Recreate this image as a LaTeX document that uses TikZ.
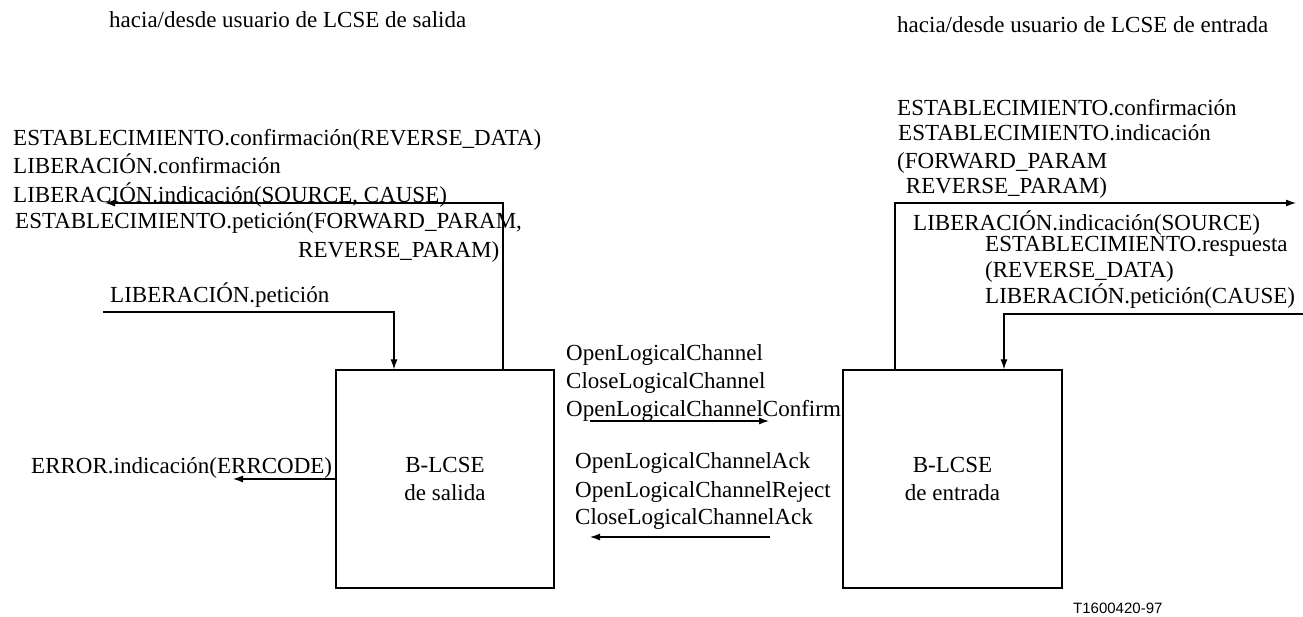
\documentclass[tikz,border=0pt]{standalone}
\usepackage{fontspec}
\setmainfont{Liberation Serif}
\newfontfamily\tagfont{Liberation Sans}
\usepackage{tikz}
\usetikzlibrary{arrows.meta}
\tikzstyle{block} = [rectangle, draw, line width=1.3pt, align=center, minimum width=218, minimum height=218, font=\fontsize{23}{28}\selectfont]
\tikzstyle{lbl} = [anchor=base west, inner sep=0pt, font=\fontsize{23}{26}\selectfont]
\tikzstyle{connector} = [line width=1.2pt, -{Latex[length=10pt,width=7pt]}]

\begin{document}
\begin{tikzpicture}[x=1pt, y=-1pt]
        \useasboundingbox (0,0) rectangle (1303,616);
        % headings
        \node (headL) [lbl] at (109,27) {hacia/desde usuario de LCSE de salida};
        \node (headR) [lbl] at (897,32) {hacia/desde usuario de LCSE de entrada};
        % the two blocks
        \node (salida) [block] at (445,479) {B-LCSE\\de salida};
        \node (entrada) [block, minimum width=219] at (952.5,479) {B-LCSE\\de entrada};
        % primitives, outgoing side
        \node (estConfL) [lbl] at (13,145) {ESTABLECIMIENTO.confirmación(REVERSE\_DATA)};
        \node (libConfL) [lbl] at (13,173) {LIBERACIÓN.confirmación};
        \node (libIndL) [lbl] at (13,202) {LIBERACIÓN.indicación(SOURCE, CAUSE)};
        \node (estPetL) [lbl] at (15,228) {ESTABLECIMIENTO.petición(FORWARD\_PARAM,};
        \node (estPetL2) [lbl] at (298,257) {REVERSE\_PARAM)};
        \node (libPetL) [lbl] at (110,302) {LIBERACIÓN.petición};
        \node (errInd) [lbl] at (31,473) {ERROR.indicación(ERRCODE)};
        % primitives, incoming side
        \node (estConfR) [lbl] at (897,115) {ESTABLECIMIENTO.confirmación};
        \node (estIndR) [lbl] at (898,140) {ESTABLECIMIENTO.indicación};
        \node (estIndR2) [lbl] at (897,168) {(FORWARD\_PARAM};
        \node (estIndR3) [lbl] at (900,193) {\ REVERSE\_PARAM)};
        \node (libIndR) [lbl] at (913,230) {LIBERACIÓN.indicación(SOURCE)};
        \node (estRespR) [lbl] at (985,251) {ESTABLECIMIENTO.respuesta};
        \node (estRespR2) [lbl] at (985,277) {(REVERSE\_DATA)};
        \node (libPetR) [lbl] at (985,303) {LIBERACIÓN.petición(CAUSE)};
        % messages between the peers
        \node (olc) [lbl] at (566,360) {OpenLogicalChannel};
        \node (clc) [lbl] at (566,388) {CloseLogicalChannel};
        \node (olcConf) [lbl] at (566,416) {OpenLogicalChannelConfirm};
        \node (olcAck) [lbl] at (575,468) {OpenLogicalChannelAck};
        \node (olcRej) [lbl] at (575,497) {OpenLogicalChannelReject};
        \node (clcAck) [lbl] at (575,524) {CloseLogicalChannelAck};
        \node (figtag) [lbl, font=\tagfont\fontsize{15}{18}\selectfont] at (1073,613) {T1600420-97};
        % free ends
        \coordinate (confL) at (105,203);
        \coordinate (relReqL) at (103,312);
        \coordinate (errL) at (233,479);
        \coordinate (confR) at (1296,203);
        \coordinate (respR) at (1303,314);
        \coordinate (fwdA) at (590,421);
        \coordinate (fwdB) at (769,421);
        \coordinate (bckA) at (770,537);
        \coordinate (bckB) at (590,537);
        % connectors
        \draw [connector] ([xshift=58]salida.north) |- (confL);
        \draw [connector] (relReqL) -| ([xshift=-51]salida.north);
        \draw [connector] (salida.west) -- (errL);
        \draw [connector] ([xshift=-57.5]entrada.north) |- (confR);
        \draw [connector] (respR) -| ([xshift=51.5]entrada.north);
        \draw [connector] (fwdA) -- (fwdB);
        \draw [connector] (bckA) -- (bckB);
    \end{tikzpicture}
\end{document}
